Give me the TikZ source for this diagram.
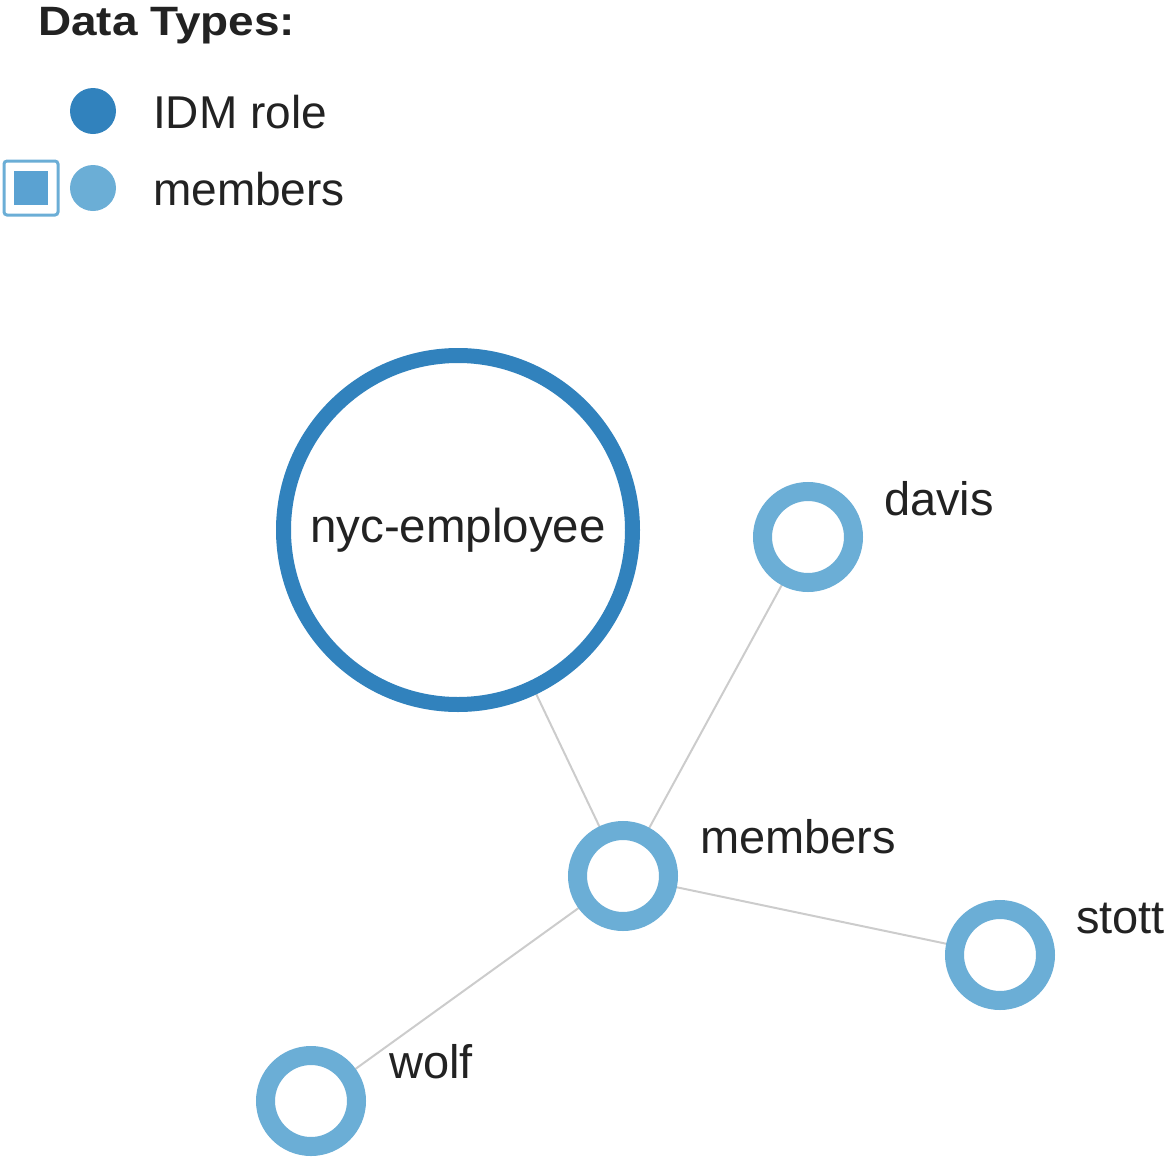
\documentclass[tikz,border=0pt]{standalone}
\usepackage{fontspec}
\setmainfont{Liberation Sans}
\usetikzlibrary{backgrounds}
\definecolor{roleblue}{HTML}{3182BD}
\definecolor{memblue}{HTML}{6BAED6}
\definecolor{sqblue}{HTML}{5AA2D2}
\definecolor{edgegray}{HTML}{CCCCCC}
\definecolor{txtcol}{HTML}{222222}
\begin{document}
\begin{tikzpicture}[x=1pt,y=-1pt,
  txt/.style={anchor=base west,inner sep=0pt,font=\fontsize{47}{56}\selectfont,text=txtcol},
  memnode/.style={circle,draw=memblue,line width=19pt,fill=white,minimum size=91pt,inner sep=0pt},
  rolenode/.style={circle,draw=roleblue,line width=15pt,fill=white,minimum size=349pt,inner sep=0pt,font=\fontsize{47.5}{56}\selectfont,text=txtcol},
  link/.style={draw=edgegray,line width=2pt},
  legdot/.style={circle,minimum size=46pt,inner sep=0pt}]
\useasboundingbox (0,0) rectangle (1165,1162);
% legend
\node[anchor=base west,inner sep=0pt,font=\fontsize{41}{50}\selectfont\bfseries,text=txtcol,xscale=1.12,transform shape] (title) at (38,35) {Data Types:};
\node[legdot,fill=roleblue] (dotrole) at (93,111) {};
\node[txt,font=\fontsize{46}{55}\selectfont] (lrole) at (153,128) {IDM role};
\node[legdot,fill=memblue] (dotmem) at (93,188) {};
\node[txt,font=\fontsize{46}{55}\selectfont] (lmem) at (153,205) {members};
\node[draw=memblue,line width=3pt,rounded corners=3pt,minimum size=54pt,inner sep=0pt] (chk) at (31,188) {};
\node[fill=sqblue,minimum size=34pt,inner sep=0pt] (chkin) at (31,188) {};
% graph nodes
\node[rolenode] (nyc) at (458,530) {nyc-employee};
\node[memnode] (mem) at (623,876) {};
\node[memnode] (davis) at (808,537) {};
\node[memnode] (stott) at (1000,955) {};
\node[memnode] (wolf) at (311,1101) {};
% labels
\node[txt] (tmem) at (700,853) {members};
\node[txt] (tdavis) at (884,515) {davis};
\node[txt] (tstott) at (1076,933) {stott};
\node[txt] (twolf) at (389,1078) {wolf};
% edges
\begin{scope}[on background layer]
\draw[link] (mem.center) -- (nyc.center);
\draw[link] (mem.center) -- (davis.center);
\draw[link] (mem.center) -- (stott.center);
\draw[link] (mem.center) -- (wolf.center);
\end{scope}
\end{tikzpicture}
\end{document}
